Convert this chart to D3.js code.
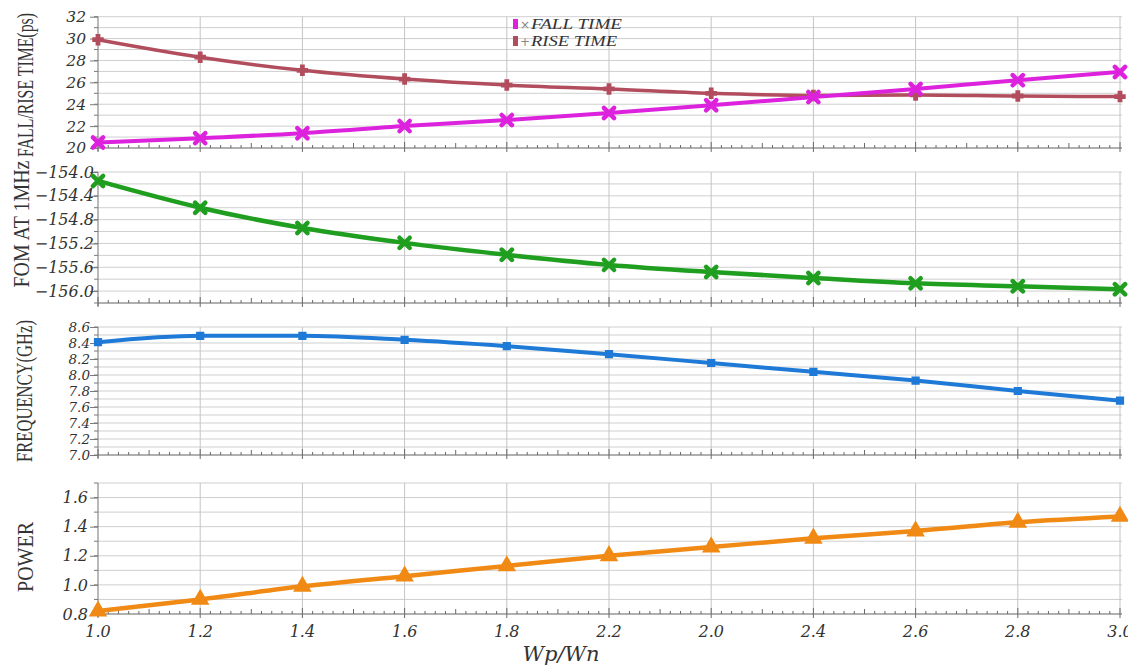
<!DOCTYPE html>
<html><head><meta charset="utf-8">
<script src="https://cdn.jsdelivr.net/npm/d3@7"></script>
<style>
body{margin:0;background:#fff;}
svg{display:block;}
</style></head><body>
<svg id="c" width="1128" height="666"></svg>
<script>
// ---- data ----
const xValues = [1.0,1.2,1.4,1.6,1.8,2.0,2.2,2.4,2.6,2.8,3.0];
const xTickLabels = ["1.0","1.2","1.4","1.6","1.8","2.2","2.0","2.4","2.6","2.8","3.0"];
const fallTime = [20.5,20.9,21.35,22.0,22.55,23.2,23.9,24.65,25.4,26.2,26.95];
const riseTime = [29.9,28.3,27.1,26.3,25.75,25.4,25.0,24.8,24.85,24.75,24.7];
const fom = [-154.15,-154.6,-154.94,-155.19,-155.39,-155.56,-155.68,-155.78,-155.87,-155.92,-155.97];
const frequency = [8.41,8.49,8.49,8.44,8.36,8.26,8.15,8.04,7.93,7.80,7.68];
const power = [0.82,0.90,0.99,1.06,1.13,1.20,1.26,1.32,1.37,1.43,1.47];
const legendLabels = ["FALL TIME","RISE TIME"];
const legendGlyphs = ["\u00d7","+"];

const svg = d3.select("#c");
const X0 = 98, X1 = 1120;
const x = d3.scaleLinear().domain([1.0,3.0]).range([X0,X1]);

const panels = [
  {title:"FALL/RISE TIME(ps)", titleLen:144, titleX:33, titleY:85, domain:[20,32], range:[148,16.7], grid:1, label:2, fmt:d3.format("d"), pad:12, fs:15.5,
   series:[{v:riseTime,c:"#b24d5e",sym:d3.symbolCross,size:55,w:3.5,fill:true},
           {v:fallTime,c:"#dd22dd",sym:d3.symbolTimes,size:70,w:4,fill:false}]},
  {title:"FOM AT 1MHz", titleLen:127, titleX:29, titleY:224, domain:[-156.2,-154.0], range:[303,172], grid:0.2, label:0.4, fmt:d3.format(".1f"), pad:4, fs:16,
   series:[{v:fom,c:"#1f9e1f",sym:d3.symbolTimes,size:70,w:4.5,fill:false}]},
  {title:"FREQUENCY(GHz)", titleLen:142, titleX:32, titleY:391, domain:[7.0,8.6], range:[455,327], grid:0.1, label:0.2, fmt:d3.format(".1f"), pad:8, fs:13.5,
   series:[{v:frequency,c:"#1e7ad6",sym:d3.symbolSquare,size:45,w:4,fill:true}]},
  {title:"POWER", titleLen:70, titleX:33, titleY:557, domain:[0.8,1.7], range:[614,483], grid:0.1, label:0.2, fmt:d3.format(".1f"), pad:10, fs:16,
   series:[{v:power,c:"#f08a14",sym:d3.symbolTriangle,size:110,w:4.5,fill:true}]}
];

const minorX = d3.range(0,101).map(i => 1.0 + i*0.02);

panels.forEach((p,pi) => {
  const y = d3.scaleLinear().domain(p.domain).range(p.range);
  const g = svg.append("g");
  const yb = p.range[0], yt = p.range[1];
  const nG = Math.round((p.domain[1]-p.domain[0])/p.grid);
  const gridVals = d3.range(nG+1).map(i => p.domain[0] + i*p.grid);
  g.selectAll("line.hg").data(gridVals).join("line")
    .attr("x1",X0).attr("x2",X1+2).attr("y1",d=>y(d)).attr("y2",d=>y(d))
    .attr("stroke","#cfcfcf").attr("stroke-width",1);
  g.selectAll("line.vg").data(xValues.slice(1)).join("line")
    .attr("x1",d=>x(d)).attr("x2",d=>x(d)).attr("y1",yt).attr("y2",yb)
    .attr("stroke","#c4c4c4").attr("stroke-width",1);
  g.append("line").attr("x1",X0).attr("x2",X0).attr("y1",yt).attr("y2",yb+3)
    .attr("stroke","#8a8a8a").attr("stroke-width",1.2);
  g.append("line").attr("x1",X0).attr("x2",X1+2).attr("y1",yb).attr("y2",yb)
    .attr("stroke","#7a7a7a").attr("stroke-width",1.2);
  g.selectAll("line.bt").data(minorX).join("line")
    .attr("x1",d=>x(d)).attr("x2",d=>x(d))
    .attr("y1",(d,i)=> i%10===0 ? yb+4 : yb)
    .attr("y2",(d,i)=> yb - (i%10===0 ? 6 : (i%5===0 ? 5 : 3)))
    .attr("stroke","#6a6a6a").attr("stroke-width",1);
  g.selectAll("line.lt").data(gridVals).join("line")
    .attr("x1",X0-4).attr("x2",X0).attr("y1",d=>y(d)).attr("y2",d=>y(d))
    .attr("stroke","#7a7a7a").attr("stroke-width",1);
  const nL = Math.round((p.domain[1]-p.domain[0])/p.label);
  let labVals = d3.range(nL+1).map(i => p.domain[0] + i*p.label);
  if (pi===1) labVals = d3.range(6).map(i => -156.0 + i*0.4);
  const ax = d3.axisLeft(y).tickValues(labVals).tickFormat(p.fmt).tickSize(8);
  const axg = g.append("g").attr("transform",`translate(${X0},0)`).call(ax);
  axg.select(".domain").remove();
  axg.selectAll(".tick line").attr("stroke","#7a7a7a");
  axg.selectAll(".tick text")
    .attr("x",-p.pad)
    .style("font-family","'DejaVu Serif', serif").style("font-style","italic")
    .style("font-size",p.fs+"px").attr("fill","#333");
  const t = g.append("text")
    .attr("text-anchor","middle")
    .style("font-family","'Liberation Serif', serif").style("font-size","24px")
    .attr("fill","#333").text(p.title);
  const natural = t.node().getComputedTextLength();
  const k = p.titleLen / natural;
  t.attr("transform",`translate(${p.titleX},${p.titleY}) rotate(-90) scale(${k},1)`);
  p.series.forEach(s => {
    const pts = xValues.map((xv,i)=>[xv,s.v[i]]);
    g.append("path").datum(pts)
      .attr("fill","none").attr("stroke",s.c).attr("stroke-width",s.w)
      .attr("stroke-linejoin","round")
      .attr("d",d3.line().x(d=>x(d[0])).y(d=>y(d[1])).curve(d3.curveMonotoneX));
    g.selectAll(null).data(pts).join("path")
      .attr("transform",d=>`translate(${x(d[0])},${y(d[1])})`)
      .attr("d",d3.symbol().type(s.sym).size(s.size))
      .attr("fill",s.fill ? s.c : "none")
      .attr("stroke",s.c).attr("stroke-width",s.fill ? 1.5 : 4.5)
      .attr("stroke-linecap","round");
  });
});

svg.append("g").selectAll("text").data(xValues).join("text")
  .attr("x",d=>x(d)).attr("y",637).attr("text-anchor","middle")
  .style("font-family","'DejaVu Serif', serif").style("font-style","italic").style("font-size","16px")
  .attr("fill","#333").text((d,i)=>xTickLabels[i]);

svg.append("text").attr("x",561).attr("y",661).attr("text-anchor","middle")
  .style("font-family","'DejaVu Serif', serif").style("font-style","italic").style("font-size","21px")
  .attr("fill","#333").text("Wp/Wn");

const legColors = ["#dd22dd","#b24d5e"];
const leg = svg.append("g");
legendLabels.forEach((t,i) => {
  const ly = 25 + i*17;
  leg.append("rect").attr("x",513).attr("y",ly-6).attr("width",5).attr("height",10).attr("fill",legColors[i]);
  leg.append("text").attr("x",520).attr("y",ly+4)
    .style("font-family","'DejaVu Sans', sans-serif").style("font-size","12px").attr("fill","#888").text(legendGlyphs[i]);
  leg.append("text").attr("x",531).attr("y",ly+4).attr("textLength",i===0?91:86).attr("lengthAdjust","spacingAndGlyphs")
    .style("font-family","'Liberation Serif', serif").style("font-style","italic").style("font-size","14px")
    .attr("fill","#333").text(t);
});
</script>
</body></html>
